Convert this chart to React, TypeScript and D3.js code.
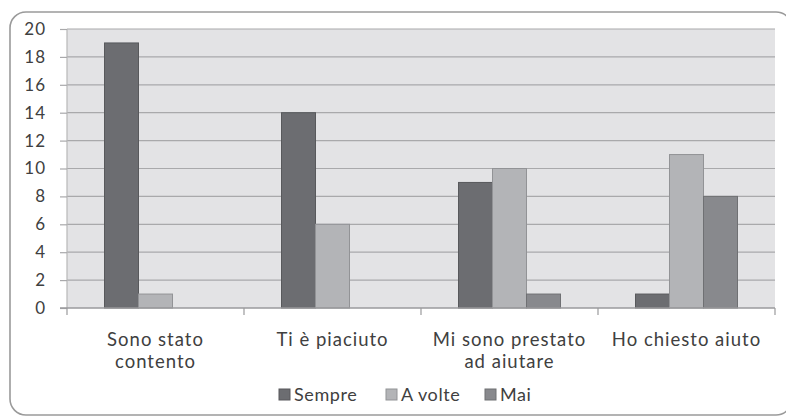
import * as d3 from "d3";
import { useRef, useEffect } from "react";

const categories = ["Sono stato contento", "Ti è piaciuto", "Mi sono prestato ad aiutare", "Ho chiesto aiuto"];
const categoryLines = [["Sono stato", "contento"], ["Ti è piaciuto"], ["Mi sono prestato", "ad aiutare"], ["Ho chiesto aiuto"]];
const seriesNames = ["Sempre", "A volte", "Mai"];
const sempre = [19, 14, 9, 1];
const aVolte = [1, 6, 10, 11];
const mai = [0, 0, 1, 8];
const yTicks = [0, 2, 4, 6, 8, 10, 12, 14, 16, 18, 20];

const FILLS = ["#6c6d71", "#b3b4b7", "#88898d"];
const STROKES = ["#58595c", "#929396", "#6f7073"];
const FONT = "Lato, 'Open Sans', sans-serif";
const TEXT = "#404040";

function App() {
  const svgRef = useRef(null);

  useEffect(() => {
    const WIDTH = 786;
    const HEIGHT = 417;
    const left = 67, right = 775, top = 29, bottom = 308;
    const values = [sempre, aVolte, mai];

    const svg = d3.select(svgRef.current);
    svg.selectAll("*").remove();
    svg.attr("width", WIDTH).attr("height", HEIGHT);

    // outer frame, runs off the right edge like the original
    svg.append("rect")
      .attr("x", 10).attr("y", 12)
      .attr("width", 782).attr("height", 403)
      .attr("rx", 16)
      .attr("fill", "white")
      .attr("stroke", "#9a9a9a")
      .attr("stroke-width", 1.6);

    const x0 = d3.scaleBand().domain(categories).range([left, right]).padding(0);
    const x1 = d3.scaleBand().domain(seriesNames)
      .range([37.5, x0.bandwidth() - 37.5]).padding(0);
    const y = d3.scaleLinear().domain([0, 20]).range([bottom, top]);

    svg.append("rect")
      .attr("x", left).attr("y", top)
      .attr("width", right - left).attr("height", bottom - top)
      .attr("fill", "#e3e3e5");

    // gridlines
    svg.append("g").selectAll("line")
      .data(yTicks.filter(d => d > 0))
      .join("line")
      .attr("x1", left).attr("x2", right)
      .attr("y1", d => y(d)).attr("y2", d => y(d))
      .attr("stroke", "#a9a9ab")
      .attr("stroke-width", 1.2);

    svg.append("line")
      .attr("x1", left).attr("x2", left)
      .attr("y1", top).attr("y2", bottom)
      .attr("stroke", "#b8b8b8").attr("stroke-width", 1.2);

    // bars
    const groups = svg.append("g").selectAll("g")
      .data(categories)
      .join("g")
      .attr("transform", d => `translate(${x0(d)},0)`);

    groups.selectAll("rect")
      .data((d, i) => seriesNames.map((s, j) => ({ s, j, v: values[j][i] })).filter(e => e.v > 0))
      .join("rect")
      .attr("x", d => x1(d.s))
      .attr("width", x1.bandwidth())
      .attr("y", d => y(d.v))
      .attr("height", d => y(0) - y(d.v))
      .attr("fill", d => FILLS[d.j])
      .attr("stroke", d => STROKES[d.j])
      .attr("stroke-width", 1);

    // y axis
    const yAxis = svg.append("g")
      .attr("transform", `translate(${left},0)`)
      .call(d3.axisLeft(y).tickValues(yTicks).tickSize(7).tickPadding(14));
    yAxis.select(".domain").remove();
    yAxis.selectAll("line").attr("stroke", "#a9a9ab").attr("stroke-width", 1.2);
    yAxis.selectAll("text")
      .attr("font-family", FONT).attr("font-size", 17).attr("letter-spacing", 1).attr("fill", TEXT);

    // x axis
    svg.append("line")
      .attr("x1", left - 7).attr("x2", right)
      .attr("y1", bottom).attr("y2", bottom)
      .attr("stroke", "#9a9a9c").attr("stroke-width", 1.4);
    const bounds = categories.map(c => x0(c)).concat([right]);
    svg.append("g").selectAll("line")
      .data(bounds)
      .join("line")
      .attr("x1", d => d).attr("x2", d => d)
      .attr("y1", bottom).attr("y2", bottom + 7)
      .attr("stroke", "#9a9a9c").attr("stroke-width", 1.2);

    // category labels, one text per line
    const labelData = [];
    categories.forEach((c, i) => {
      categoryLines[i].forEach((line, k) => labelData.push({ c, line, k }));
    });
    svg.append("g").selectAll("text")
      .data(labelData)
      .join("text")
      .attr("x", d => x0(d.c) + x0.bandwidth() / 2)
      .attr("y", d => 346 + d.k * 22)
      .attr("text-anchor", "middle")
      .attr("font-family", FONT).attr("font-size", 18.5).attr("letter-spacing", 1).attr("fill", TEXT)
      .text(d => d.line);

    // legend
    const legendX = [279, 386, 485];
    const legend = svg.append("g").selectAll("g")
      .data(seriesNames)
      .join("g")
      .attr("transform", (d, i) => `translate(${legendX[i]},389)`);
    legend.append("rect")
      .attr("width", 11).attr("height", 11)
      .attr("fill", (d, i) => FILLS[i])
      .attr("stroke", (d, i) => STROKES[i]);
    legend.append("text")
      .attr("x", 15).attr("y", 11.5)
      .attr("font-family", FONT).attr("font-size", 18).attr("letter-spacing", 0.6).attr("fill", TEXT)
      .text(d => d);
  }, []);

  return (
    <div style={{ position: "absolute", left: 0, top: 0 }}>
      <svg ref={svgRef} style={{ display: "block" }} />
    </div>
  );
}

export default App;
